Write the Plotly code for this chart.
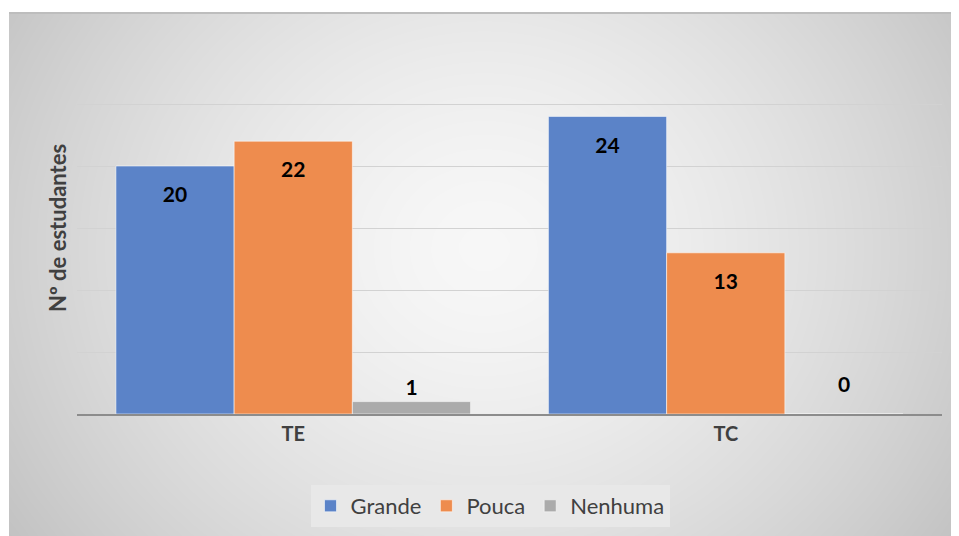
import numpy as np
import plotly.graph_objects as go

categories = ["TE", "TC"]
series_names = ["Grande", "Pouca", "Nenhuma"]
grande = [20, 24]
pouca = [22, 13]
nenhuma = [1, 0]
y_title = "Nº de estudantes"

colors = ["#5B83C8", "#EE8C4E", "#ABABAB"]
# page is shown with an 8px body margin, so the figure is 8px smaller
OFF = 8
W, H = 959 - OFF, 536 - OFF
ml, mr, mt, mb = 9 - OFF, 0, 13 - OFF, 0
pw, ph = W - ml - mr, H - mt - mb
PAGE_H = 536

# decorative radial gray background
gx = np.linspace(0, 1, 90)
gy = np.linspace(0, 1, 60)
X, Y = np.meshgrid(gx, gy)
R = np.sqrt(((X - 0.5) / 0.55) ** 2 + ((Y - 0.55) / 0.9) ** 2)
Z = R ** 1.5

fig = go.Figure()
fig.add_trace(go.Heatmap(x=gx, y=gy, z=Z, colorscale=[[0, "#f7f7f7"], [1, "#c2c2c2"]],
                         zmin=0, zmax=1.15, showscale=False, zsmooth="best",
                         hoverinfo="skip", xaxis="x", yaxis="y", showlegend=False))

LS = 21  # label size
values = [grande, pouca, nenhuma]
positions = [["inside", "inside"], ["inside", "inside"], ["outside", "outside"]]
for name, vals, col, pos in zip(series_names, values, colors, positions):
    texts = []
    for v, p in zip(vals, pos):
        if p == "inside":
            texts.append("<span style='font-size:6px'>\u00a0</span><br>"
                         f"<span style='font-size:{LS}px'>{v}</span>")
        elif v == 0:
            texts.append(f"<span style='font-size:{LS}px'>{v}</span><br>\u00a0")
        else:
            texts.append(f"<span style='font-size:{LS}px'>{v}</span>")
    base = LS if pos[0] == "inside" else 12
    f = dict(family="Lato", size=base, color="black", weight="bold")
    fig.add_trace(go.Bar(
        x=categories, y=vals, name=name, xaxis="x2", yaxis="y2",
        marker=dict(color=col, line=dict(color="rgba(255,255,255,0.55)", width=1)),
        text=texts, textposition=pos, insidetextanchor="end",
        textfont=f, outsidetextfont=f, insidetextfont=f,
        cliponaxis=False,
    ))

x0, x1 = (77 - 9) / pw, (942 - 9) / pw
y0, y1 = (PAGE_H - 414) / ph, (PAGE_H - 42) / ph

fig.update_layout(
    width=W, height=H,
    margin=dict(l=ml, r=mr, t=mt, b=mb, pad=0),
    paper_bgcolor="white", plot_bgcolor="rgba(0,0,0,0)",
    barmode="group", bargap=0.18, bargroupgap=0.0,
    xaxis=dict(domain=[0, 1], range=[0, 1], visible=False, fixedrange=True),
    yaxis=dict(domain=[0, 1], range=[0, 1], visible=False, fixedrange=True),
    xaxis2=dict(domain=[x0, x1], anchor="y2", type="category", showline=True,
                linecolor="#8c8c8c", linewidth=1.5, ticks="", showgrid=False,
                ticklabelstandoff=1,
                tickfont=dict(family="Lato", size=20, color="#404040", weight="bold")),
    yaxis2=dict(domain=[y0, y1], anchor="x2", range=[0, 30], dtick=5, showgrid=True,
                gridcolor="#d2d2d2", gridwidth=1, zeroline=False, showticklabels=False,
                ticks="", automargin=True,
                title=dict(text=y_title, standoff=3,
                           font=dict(family="Lato", size=22, color="#404040", weight="bold"))),
    legend=dict(orientation="h", x=(490 - 9) / pw, xanchor="center",
                y=(PAGE_H - 527) / ph, yanchor="bottom",
                bgcolor="#e8e8e8", font=dict(family="Lato", size=22, color="#404040"),
                traceorder="normal"),
    showlegend=True,
)
fig.add_shape(type="line", xref="paper", yref="paper", x0=0, x1=1, y0=1, y1=1,
              line=dict(color="#bdbdbd", width=2))

fig.write_html("out.html")
